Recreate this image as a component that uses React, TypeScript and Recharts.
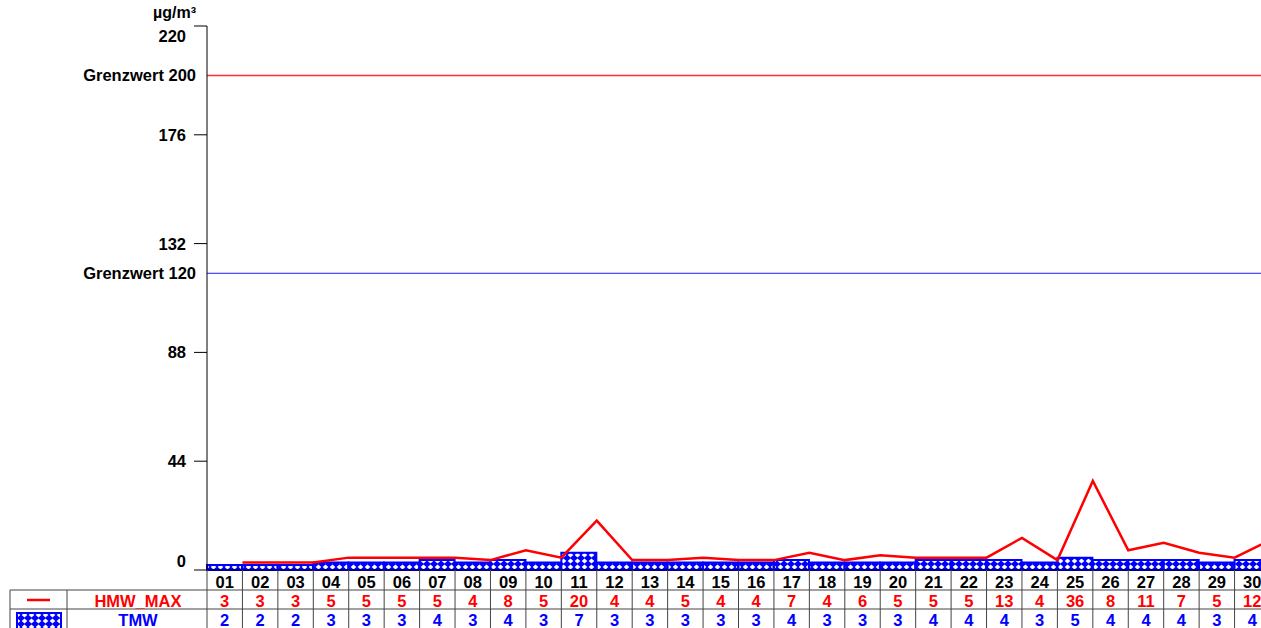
import React from "react";
import {
  ComposedChart, Bar, Line, XAxis, YAxis, ReferenceLine,
} from "recharts";

const days = [
  "01", "02", "03", "04", "05", "06", "07", "08", "09", "10",
  "11", "12", "13", "14", "15", "16", "17", "18", "19", "20",
  "21", "22", "23", "24", "25", "26", "27", "28", "29", "30",
];
const hmwMax = [3, 3, 3, 5, 5, 5, 5, 4, 8, 5, 20, 4, 4, 5, 4, 4, 7, 4, 6, 5, 5, 5, 13, 4, 36, 8, 11, 7, 5, 12];
const tmw = [2, 2, 2, 3, 3, 3, 4, 3, 4, 3, 7, 3, 3, 3, 3, 3, 4, 3, 3, 3, 4, 4, 4, 3, 5, 4, 4, 4, 3, 4];
const yTicks = [0, 44, 88, 132, 176, 220];
const limitHigh = 200;
const limitLow = 120;

const W = 1261;
const H = 628;
// the plot runs a little past the right edge of the picture
const CHART_W = 1270;
const AXIS_W = 207;
const COL_W = (CHART_W - AXIS_W) / days.length;
const FONT = "'Liberation Sans', Arial, sans-serif";
const GRID = "#444";

const barData = days.map((d, i) => ({ day: d, tmw: tmw[i] }));
// HMW_MAX is drawn at the end of each day
const lineData = hmwMax.map((v, i) => ({ pos: i + 1, hmw: v }));

function YTick(props: any) {
  const { x, y, payload } = props;
  const v = payload.value;
  let dy = 0;
  if (v === 220) dy = 10;
  if (v === 0) dy = -9;
  return (
    <g>
      {v === 220 && (
        <text x={x + 10} y={y - 8} textAnchor="end" fontFamily={FONT} fontWeight="bold" fontSize={16} fill="#000">
          µg/m³
        </text>
      )}
      <text x={x} y={y + dy} dy="0.36em" textAnchor="end" fontFamily={FONT} fontWeight="bold" fontSize={16.5} fill="#000">
        {v}
      </text>
    </g>
  );
}

function DayTick(props: any) {
  const { x, y, payload } = props;
  const i = props.index ?? days.indexOf(payload.value);
  const l = x - COL_W / 2;
  const r = x + COL_W / 2;
  const txt = { fontFamily: FONT, fontWeight: "bold", fontSize: 16.5, textAnchor: "middle" as const };
  return (
    <g>
      {i === 0 && <line x1={l} x2={l} y1={y} y2={y + 60} stroke={GRID} />}
      <line x1={r} x2={r} y1={y} y2={y + 60} stroke={GRID} />
      <line x1={l} x2={r} y1={y + 20} y2={y + 20} stroke={GRID} />
      <line x1={l} x2={r} y1={y + 39} y2={y + 39} stroke={GRID} />
      <text x={x} y={y + 12} dy="0.36em" {...txt} fill="#000">{payload.value}</text>
      <text x={x} y={y + 31} dy="0.36em" {...txt} fill="#ff0000">{hmwMax[i]}</text>
      <text x={x} y={y + 50} dy="0.36em" {...txt} fill="#0000ff">{tmw[i]}</text>
    </g>
  );
}

const limitLabel = (text: string) => (p: any) => {
  const vb = p.viewBox || {};
  return (
    <text x={vb.x - 11} y={vb.y} dy="0.36em" textAnchor="end" fontFamily={FONT} fontWeight="bold" fontSize={16.5} fill="#000">
      {text}
    </text>
  );
};

export default function App() {
  return (
    <div style={{ position: "absolute", left: 0, top: 0, width: W, height: H, background: "#fff", overflow: "hidden" }}>
      <svg width={0} height={0} style={{ position: "absolute" }}>
        <defs>
          <pattern id="hatch" width={7} height={6} patternUnits="userSpaceOnUse">
            <rect width={7} height={6} fill="#0000ff" />
            <path d="M3.5 0.6 L6.3 3 L3.5 5.4 L0.7 3 Z" fill="#ffffff" />
          </pattern>
        </defs>
      </svg>
      <ComposedChart
        width={CHART_W}
        height={H}
        data={barData}
        margin={{ top: 26, right: 0, bottom: 0, left: 0 }}
        barCategoryGap={0}
        barGap={0}
      >
        <XAxis
          xAxisId="cat"
          dataKey="day"
          interval={0}
          height={58}
          tickLine={false}
          tickSize={0}
          tickMargin={0}
          axisLine={{ stroke: "#000" }}
          tick={<DayTick />}
        />
        <XAxis xAxisId="num" type="number" dataKey="pos" domain={[0, 30]} hide allowDataOverflow />
        <YAxis
          width={AXIS_W}
          domain={[0, 220]}
          ticks={yTicks}
          interval={0}
          tickSize={13}
          tickMargin={8}
          tickLine={{ stroke: "#000" }}
          axisLine={{ stroke: "#000" }}
          tick={<YTick />}
        />
        <ReferenceLine
          xAxisId="cat"
          y={limitHigh}
          stroke="#ff3030"
          strokeWidth={1.5}
          label={limitLabel("Grenzwert 200")}
        />
        <ReferenceLine
          xAxisId="cat"
          y={limitLow}
          stroke="#1a1aff"
          strokeWidth={1}
          label={limitLabel("Grenzwert 120")}
        />
        <Bar
          xAxisId="cat"
          dataKey="tmw"
          fill="url(#hatch)"
          stroke="#0000ff"
          strokeWidth={2}
          isAnimationActive={false}
        />
        <Line
          xAxisId="num"
          data={lineData}
          dataKey="hmw"
          stroke="#ff0000"
          strokeWidth={2.5}
          dot={false}
          isAnimationActive={false}
        />
      </ComposedChart>
      <svg width={W} height={H} style={{ position: "absolute", left: 0, top: 0, pointerEvents: "none" }}>
        <line x1={10} x2={AXIS_W} y1={590} y2={590} stroke={GRID} />
        <line x1={10} x2={AXIS_W} y1={609} y2={609} stroke={GRID} />
        <line x1={10} x2={10} y1={590} y2={630} stroke={GRID} />
        <line x1={67} x2={67} y1={590} y2={630} stroke={GRID} />
        <line x1={27} x2={50} y1={600} y2={600} stroke="#ff0000" strokeWidth={2.5} />
        <rect x={17} y={613} width={44} height={16} fill="url(#hatch)" stroke="#0000ff" strokeWidth={2} />
        <text x={138} y={601} dy="0.36em" textAnchor="middle" fontFamily={FONT} fontWeight="bold" fontSize={16.5} fill="#ff0000">
          HMW_MAX
        </text>
        <text x={138} y={620} dy="0.36em" textAnchor="middle" fontFamily={FONT} fontWeight="bold" fontSize={16.5} fill="#0000ff">
          TMW
        </text>
      </svg>
    </div>
  );
}
